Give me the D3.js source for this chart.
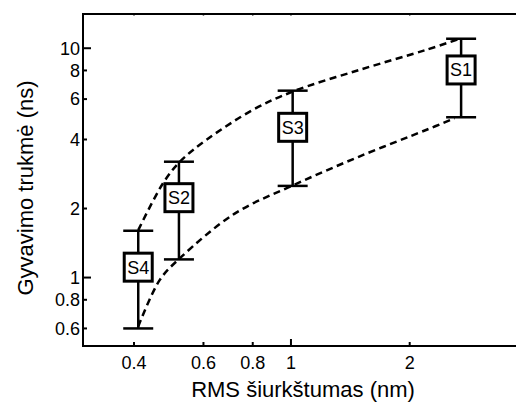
<!DOCTYPE html>
<html>
<head>
<meta charset="utf-8">
<script src="https://cdn.jsdelivr.net/npm/d3@7"></script>
<style>
  html, body { margin: 0; padding: 0; background: #fff; }
  svg { display: block; font-family: "Liberation Sans", Arial, sans-serif; }
</style>
</head>
<body>
<svg id="chart" width="516" height="402"></svg>
<script>
// ---- data ----
const samples = ["S4", "S2", "S3", "S1"];
const roughness = [0.41, 0.52, 1.01, 2.70];          // RMS (nm)
const lifetime = [1.11, 2.23, 4.52, 8.04];           // box centre (ns)
const lifetimeLow = [0.60, 1.20, 2.51, 5.00];        // lower whisker
const lifetimeHigh = [1.60, 3.20, 6.53, 11.0];       // upper whisker

const upperCurveX = [0.41, 0.474, 0.523, 0.61, 0.80, 1.01, 1.49, 2.20, 2.67];
const upperCurveY = [1.61, 2.58, 3.20, 3.98, 5.38, 6.47, 8.04, 9.83, 10.98];
const lowerCurveX = [0.41, 0.465, 0.523, 0.72, 1.02, 1.49, 2.20, 2.60];
const lowerCurveY = [0.612, 0.977, 1.215, 1.90, 2.54, 3.37, 4.40, 4.95];

const xTicks = [0.4, 0.6, 0.8, 1, 2];
const xTickLabels = ["0.4", "0.6", "0.8", "1", "2"];
const yTicks = [0.6, 0.8, 1, 2, 4, 6, 8, 10];
const yTickLabels = ["0.6", "0.8", "1", "2", "4", "6", "8", "10"];
const xTitle = "RMS šiurkštumas (nm)";
const yTitle = "Gyvavimo trukmė (ns)";

(function () {
// ---- layout ----
const mLeft = 83, mRight = 516, mTop = 14, mBottom = 346;
const svg = d3.select("#chart");

const x = d3.scaleLog().domain([0.297, 3.72]).range([mLeft, mRight]);
const y = d3.scaleLog().domain([0.503, 14.1]).range([mBottom, mTop]);

// frame (left, top, bottom)
svg.append("path")
  .attr("d", `M${mRight + 2},${mTop} H${mLeft} V${mBottom} H${mRight + 2}`)
  .attr("fill", "none").attr("stroke", "#000").attr("stroke-width", 2);

// y ticks (inward) + labels
const yg = svg.append("g").attr("transform", `translate(${mLeft},0)`);
yg.selectAll("line").data(yTicks).join("line")
  .attr("x1", 0).attr("x2", d => (d === 1 || d === 10) ? 8 : 4)
  .attr("y1", d => y(d)).attr("y2", d => y(d))
  .attr("stroke", "#000").attr("stroke-width", 2);
yg.selectAll("text").data(yTicks).join("text")
  .attr("x", -3).attr("y", d => y(d)).attr("dy", "0.35em")
  .attr("text-anchor", "end").attr("font-size", 18)
  .text((d, i) => yTickLabels[i]);

// x ticks (inward) + labels
const xg = svg.append("g");
xg.selectAll("line.b").data(xTicks).join("line").attr("class", "b")
  .attr("x1", d => x(d)).attr("x2", d => x(d))
  .attr("y1", mBottom).attr("y2", d => mBottom - (d === 1 ? 7 : 4))
  .attr("stroke", "#000").attr("stroke-width", 2);
xg.selectAll("line.t").data(xTicks).join("line").attr("class", "t")
  .attr("x1", d => x(d)).attr("x2", d => x(d))
  .attr("y1", mTop).attr("y2", mTop + 1.5)
  .attr("stroke", "#000").attr("stroke-width", 1.5);
xg.selectAll("text").data(xTicks).join("text")
  .attr("x", d => x(d)).attr("y", 369)
  .attr("text-anchor", "middle").attr("font-size", 18)
  .text((d, i) => xTickLabels[i]);

// axis titles
svg.append("text").attr("x", 303).attr("y", 397)
  .attr("text-anchor", "middle").attr("font-size", 22).text(xTitle);
svg.append("text").attr("transform", "translate(33,188) rotate(-90)")
  .attr("text-anchor", "middle").attr("font-size", 22).text(yTitle);

// dashed curves
const line = d3.line().curve(d3.curveCatmullRom.alpha(0.5))
  .x(d => x(d[0])).y(d => y(d[1]));
const upper = upperCurveX.map((v, i) => [v, upperCurveY[i]]);
const lower = lowerCurveX.map((v, i) => [v, lowerCurveY[i]]);
[upper, lower].forEach(pts => {
  svg.append("path").attr("d", line(pts))
    .attr("fill", "none").attr("stroke", "#000")
    .attr("stroke-width", 2.5).attr("stroke-dasharray", "7,4.5");
});

// error bars with boxed labels
const capW = 30, box = 28;
const g = svg.append("g");
samples.forEach((s, i) => {
  const cx = x(roughness[i]);
  const cy = y(lifetime[i]);
  g.append("line").attr("x1", cx).attr("x2", cx)
    .attr("y1", y(lifetimeLow[i])).attr("y2", y(lifetimeHigh[i]))
    .attr("stroke", "#000").attr("stroke-width", 2.5);
  [lifetimeLow[i], lifetimeHigh[i]].forEach(v => {
    g.append("line").attr("x1", cx - capW / 2).attr("x2", cx + capW / 2)
      .attr("y1", y(v)).attr("y2", y(v))
      .attr("stroke", "#000").attr("stroke-width", 2.5);
  });
  g.append("rect").attr("x", cx - box / 2).attr("y", cy - box / 2)
    .attr("width", box).attr("height", box)
    .attr("fill", "#fff").attr("stroke", "#000").attr("stroke-width", 3);
  g.append("text").attr("x", cx).attr("y", cy).attr("dy", "0.36em")
    .attr("text-anchor", "middle").attr("font-size", 18).text(s);
});
})();
</script>
</body>
</html>
